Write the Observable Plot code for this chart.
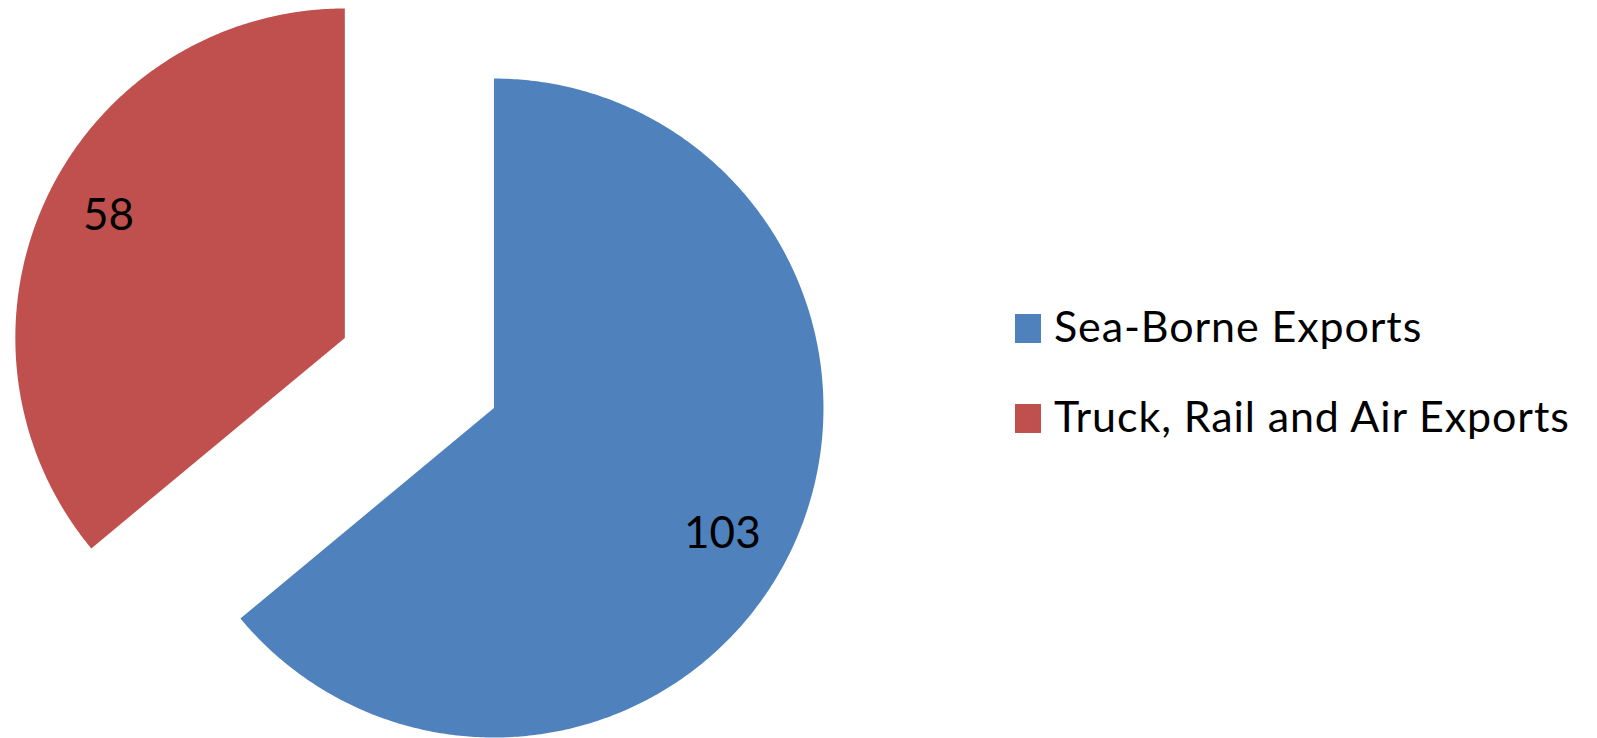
<!DOCTYPE html>
<html>
<head>
<meta charset="utf-8">
<script src="https://cdn.jsdelivr.net/npm/d3@7"></script>
<script src="https://cdn.jsdelivr.net/npm/@observablehq/plot@0.6"></script>
<style>
  html, body { margin: 0; padding: 0; background: #fff; }
  #wrap { position: relative; width: 1597px; height: 738px; font-family: Lato, sans-serif; overflow: hidden; }
  #chart svg { display: block; }
  .legend { position: absolute; left: 1015px; top: 300px; }
  .row { position: relative; height: 90px; }
  .sw { position: absolute; left: 0; top: 14px; width: 26px; height: 29px; }
  .lab { position: absolute; left: 39px; top: 0; font-size: 43px; letter-spacing: 0.9px; line-height: 1.2; color: #000; white-space: nowrap; }
</style>
</head>
<body>
<div id="wrap"><div id="chart"></div><div class="legend" id="legend"></div></div>
<script>
// ---- data ----
const categories = ["Sea-Borne Exports", "Truck, Rail and Air Exports"];
const values = [103, 58];
const colors = ["#4F81BD", "#C0504D"];

// ---- layout ----
const W = 1597, H = 738;
const R = 329.5;            // pie radius in px
const CX = 418.9, CY = 372.5; // un-exploded pie centre in px
const EXPLODE = 0.25;        // explosion as fraction of radius
const LABEL_R = 0.80;
const LABEL_SHIFT = 3.0 * Math.PI / 180;

const rows = categories.map((c, i) => ({category: c, value: values[i]}));
const arcs = d3.pie().sort(null).value(d => d.value)(rows);

const outline = [];
const labels = [];
arcs.forEach(a => {
  const cat = a.data.category;
  const mid = (a.startAngle + a.endAngle) / 2;
  const ox = EXPLODE * Math.sin(mid), oy = EXPLODE * Math.cos(mid);
  outline.push({category: cat, x: ox, y: oy});
  const n = Math.max(2, Math.ceil((a.endAngle - a.startAngle) / (Math.PI / 360)));
  for (let i = 0; i <= n; i++) {
    const t = a.startAngle + (a.endAngle - a.startAngle) * i / n;
    outline.push({category: cat, x: ox + Math.sin(t), y: oy + Math.cos(t)});
  }
  const la = mid + LABEL_SHIFT;
  labels.push({category: cat, value: a.data.value,
    x: ox + LABEL_R * Math.sin(la), y: oy + LABEL_R * Math.cos(la)});
});

const chart = Plot.plot({
  width: W,
  height: H,
  margin: 0,
  style: {fontFamily: "Lato, sans-serif", background: "#fff"},
  x: {domain: [-CX / R, (W - CX) / R], axis: null},
  y: {domain: [-(H - CY) / R, CY / R], axis: null},
  color: {domain: categories, range: colors},
  marks: [
    Plot.line(outline, {x: "x", y: "y", z: "category", fill: "category", stroke: "none", curve: "linear"}),
    Plot.text(labels, {x: "x", y: "y", text: d => String(d.value), fontSize: 44, fill: "#000", textAnchor: "middle", lineAnchor: "middle", dx: -4, dy: 2})
  ]
});
document.getElementById("chart").appendChild(chart);

const legend = document.getElementById("legend");
categories.forEach((c, i) => {
  const row = document.createElement("div");
  row.className = "row";
  const sw = document.createElement("div");
  sw.className = "sw";
  sw.style.background = colors[i];
  const lab = document.createElement("div");
  lab.className = "lab";
  lab.textContent = c;
  row.appendChild(sw);
  row.appendChild(lab);
  legend.appendChild(row);
});
</script>
</body>
</html>
